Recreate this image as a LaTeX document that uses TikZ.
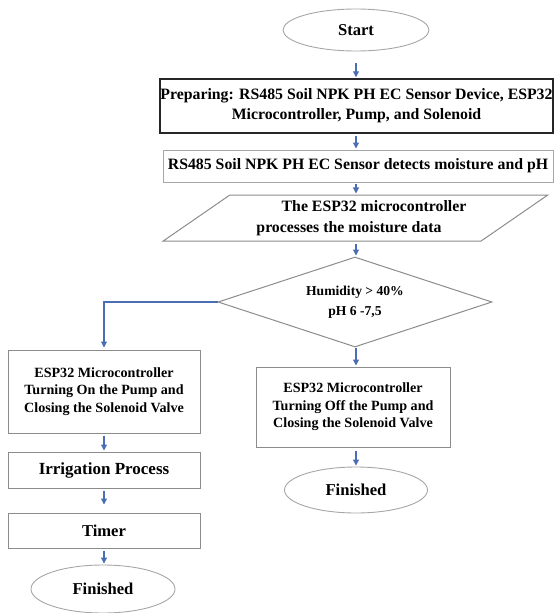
\documentclass[tikz,border=0pt]{standalone}
\usepackage{fontspec}
\setmainfont{Liberation Serif}
\usetikzlibrary{arrows.meta,shapes.geometric}
\definecolor{flowblue}{HTML}{4A6DB4}
\definecolor{linegray}{HTML}{8C8C8C}
\definecolor{ovalgray}{HTML}{A6A6A6}
\tikzset{
  terminal/.style={ellipse, draw=ovalgray, line width=0.9pt, inner sep=0pt, font=\bfseries\fontsize{16.6}{20}\selectfont},
  procbox/.style={rectangle, draw=linegray, line width=1pt, inner sep=0pt, align=center},
  iobox/.style={trapezium, trapezium left angle=31, trapezium right angle=149, trapezium stretches=true, draw=linegray, line width=1pt, inner sep=0pt, align=center},
  decision/.style={diamond, aspect=3.04, draw=linegray, line width=1pt, inner sep=0pt, align=center},
  flowarrow/.style={draw=flowblue, line width=1.1pt, -{Triangle[length=6pt,width=6pt]}, shorten >=1pt}
}
\begin{document}
\begin{tikzpicture}[x=1pt, y=-1pt]
		%%%%% START %%%%%
		\useasboundingbox (0,0) rectangle (554,613);
		
		\node[terminal, minimum width=146pt, minimum height=42pt] (start) at (356,30) {Start};
		
		\node[procbox, draw=black!85, line width=1.5pt, minimum width=393pt, minimum height=54pt, font=\bfseries\fontsize{15.8}{20}\selectfont] (prep) at (356.5,106) {Preparing: RS485 Soil NPK PH EC Sensor Device, ESP32\\Microcontroller, Pump, and Solenoid};
		\node[procbox, draw=ovalgray, minimum width=390pt, minimum height=32pt, font=\bfseries\fontsize{15.8}{20}\selectfont] (sensor) at (358,166) {RS485 Soil NPK PH EC Sensor detects moisture and pH};
		\node[iobox, minimum width=385pt, minimum height=46pt, font=\bfseries\fontsize{15.8}{21}\selectfont] (proc) at (355.5,218) {\hspace*{37pt}The ESP32 microcontroller\\processes the moisture data\hspace*{13pt}};
		\node[decision, minimum width=274pt, minimum height=90pt, font=\bfseries\fontsize{13.6}{20}\selectfont] (check) at (355,302) {Humidity > 40\%\\pH 6 -7,5};
		
		% left branch
		\node[procbox, minimum width=192pt, minimum height=83pt, font=\bfseries\fontsize{14.1}{17.5}\selectfont] (pumpon) at (104,391.5) {ESP32 Microcontroller\\Turning On the Pump and\\Closing the Solenoid Valve};
		\node[procbox, minimum width=192pt, minimum height=36pt, font=\bfseries\fontsize{17}{20}\selectfont] (irrig) at (104,470) {Irrigation Process};
		\node[procbox, minimum width=192pt, minimum height=35pt, font=\bfseries\fontsize{16.6}{20}\selectfont] (timer) at (104,530.5) {Timer};
		\node[terminal, minimum width=144pt, minimum height=48pt] (endleft) at (103,589) {Finished};
		
		% right branch
		\node[procbox, minimum width=194pt, minimum height=80pt, font=\bfseries\fontsize{14.1}{17.5}\selectfont] (pumpoff) at (353,407) {ESP32 Microcontroller\\Turning Off the Pump and\\Closing the Solenoid Valve};
		\node[terminal, minimum width=143pt, minimum height=46pt] (endright) at (356,490) {Finished};
		
		% arrows
		\draw[flowarrow, shorten <=12pt] (start.south) -- (start.south |- prep.north);
		\draw[flowarrow, shorten <=2pt] (prep.south -| start.south) -- (start.south |- sensor.north);
		\draw[flowarrow, shorten <=1pt] (sensor.south -| start.south) -- (start.south |- proc.north);
		\draw[flowarrow, shorten <=2pt] (proc.south -| start.south) -- (check.north -| start.south);
		\draw[flowarrow, shorten <=0pt] (check.south -| start.south) -- (start.south |- pumpoff.north);
		\draw[flowarrow, shorten <=3pt] (pumpoff.south -| endright.north) -- (endright.north);
		\draw[flowarrow, shorten >=2pt] (check.west) -| (pumpon.north);
		\draw[flowarrow, shorten <=2pt] (pumpon.south) -- (irrig.north);
		\draw[flowarrow, shorten <=2pt, shorten >=8pt] (irrig.south) -- (timer.north);
		\draw[flowarrow, shorten <=2pt] (timer.south) -- (endleft.north -| timer.south);
		
		%%%%% END %%%%%
	\end{tikzpicture}
\end{document}
